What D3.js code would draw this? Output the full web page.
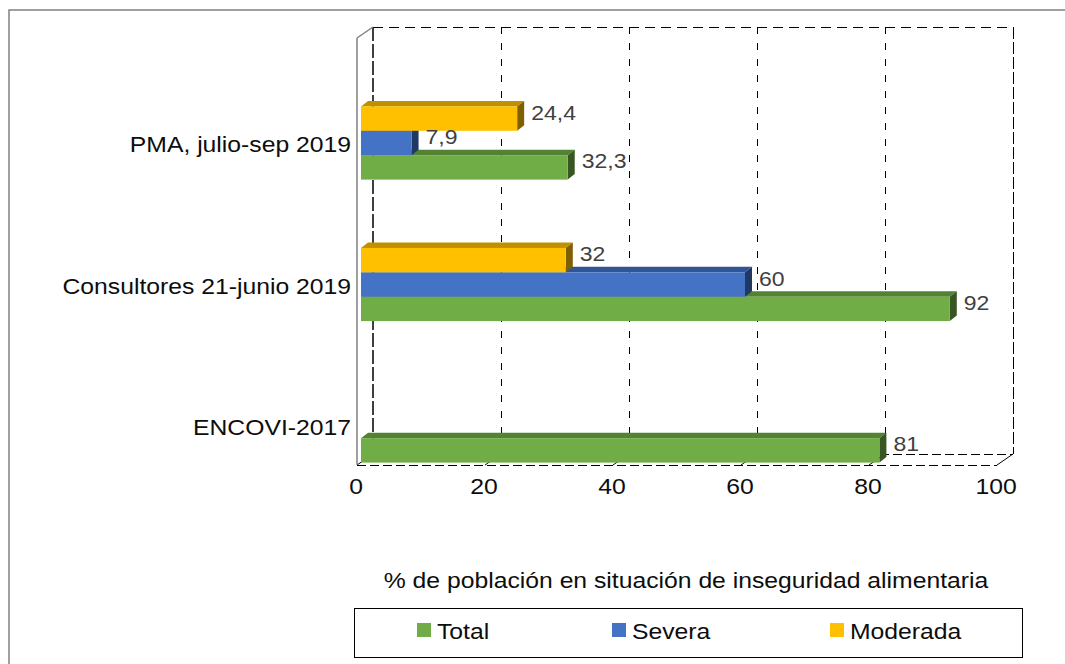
<!DOCTYPE html>
<html>
<head>
<meta charset="utf-8">
<script src="https://cdn.jsdelivr.net/npm/d3@7"></script>
<style>
  html, body { margin: 0; padding: 0; background: #fff; }
  svg { display: block; }
  text { font-family: "Liberation Sans", Arial, Helvetica, sans-serif; }
</style>
</head>
<body>
<svg id="chart" width="1065" height="664"></svg>
<script>
// ---------- data ----------
const categories = ["ENCOVI-2017", "Consultores 21-junio 2019", "PMA, julio-sep 2019"];
const seriesNames = ["Total", "Severa", "Moderada"];
const totalValues = [81, 92, 32.3];
const severaValues = [null, 60, 7.9];
const moderadaValues = [null, 32, 24.4];
const xTickValues = [0, 20, 40, 60, 80, 100];
const axisTitle = "% de población en situación de inseguridad alimentaria";

const seriesValues = { "Total": totalValues, "Severa": severaValues, "Moderada": moderadaValues };
const colors = {
  "Total":    { front: "#70AD47", top: "#548235", side: "#375623" },
  "Severa":   { front: "#4472C4", top: "#2F5597", side: "#1F3864" },
  "Moderada": { front: "#FFC000", top: "#BF9000", side: "#7F6000" }
};

// ---------- layout ----------
const svg = d3.select("#chart");
const SX = 1.15;          // horizontal stretch of the text in the reference
const depth = { dx: 16, dy: -11 };      // wall depth
const barOff = { dx: 4, dy: -3 };       // bar front offset into the depth
const barDepth = { dx: 7, dy: -5.5 };   // bar thickness in depth

const x = d3.scaleLinear().domain([0, 100]).range([357, 997]);
const yFloor = 465, yTopFront = 38;
const yCat = d3.scalePoint().domain(categories).range([426, 143]);
const ySeries = d3.scaleBand().domain(["Moderada", "Severa", "Total"]).range([-36.6, 36.6]);

function addText(parent, px, py, str, size, anchor, fill) {
  return parent.append("text")
    .attr("transform", `translate(${px},${py}) scale(${SX},1)`)
    .attr("text-anchor", anchor)
    .attr("font-size", size)
    .attr("fill", fill)
    .text(str);
}

// outer chart frame
svg.append("rect").attr("x", 9).attr("y", 10).attr("width", 1100).attr("height", 700)
  .attr("fill", "none").attr("stroke", "#808080").attr("stroke-width", 1.5);

// ---------- walls / floor ----------
const walls = svg.append("g").attr("fill", "none").attr("stroke", "#000").attr("stroke-width", 1);
const xb = v => x(v) + depth.dx;
const yBackTop = yTopFront + depth.dy, yBackBot = yFloor + depth.dy;
const crisp = v => Math.round(v) + 0.5;

// back wall gridlines
walls.selectAll("line.grid").data(xTickValues.filter(v => v > 0 && v < 100)).join("line")
  .attr("class", "grid")
  .attr("x1", d => crisp(xb(d))).attr("x2", d => crisp(xb(d)))
  .attr("y1", yBackTop).attr("y2", yBackBot)
  .attr("stroke-dasharray", "7,9");
// floor gridlines (front to back)
walls.selectAll("line.fgrid").data(xTickValues.filter(v => v > 0 && v < 100)).join("line")
  .attr("class", "fgrid")
  .attr("x1", d => x(d)).attr("y1", yFloor)
  .attr("x2", d => xb(d)).attr("y2", yBackBot);
// back wall top edge
walls.append("line").attr("x1", xb(0)).attr("x2", xb(100)).attr("y1", crisp(yBackTop)).attr("y2", crisp(yBackTop))
  .attr("stroke-dasharray", "10,6");
// back wall right edge
walls.append("line").attr("x1", crisp(xb(100))).attr("x2", crisp(xb(100))).attr("y1", yBackTop).attr("y2", yBackBot)
  .attr("stroke-dasharray", "12,3");
// back wall left edge
walls.append("line").attr("x1", xb(0)).attr("x2", xb(0)).attr("y1", yBackTop).attr("y2", yBackBot)
  .attr("stroke-dasharray", "14,3").attr("stroke-width", 1.5);
// floor back edge
walls.append("line").attr("x1", xb(0)).attr("x2", xb(100)).attr("y1", crisp(yBackBot)).attr("y2", crisp(yBackBot))
  .attr("stroke-dasharray", "9,4");
// floor front edge
walls.append("line").attr("x1", x(0)).attr("x2", x(100)).attr("y1", crisp(yFloor)).attr("y2", crisp(yFloor))
  .attr("stroke-dasharray", "9,4");
// floor right edge
walls.append("line").attr("x1", x(100)).attr("y1", yFloor).attr("x2", xb(100)).attr("y2", yBackBot);
// floor left edge
walls.append("line").attr("x1", x(0)).attr("y1", yFloor).attr("x2", xb(0)).attr("y2", yBackBot);

// left wall (category axis)
const axisG = svg.append("g").attr("stroke", "#808080").attr("stroke-width", 1.5).attr("fill", "none");
axisG.append("line").attr("x1", x(0)).attr("x2", x(0)).attr("y1", yTopFront).attr("y2", yFloor);
axisG.append("line").attr("x1", x(0)).attr("y1", yTopFront).attr("x2", xb(0)).attr("y2", yBackTop);

// ---------- bars ----------
const barsG = svg.append("g");
const barData = [];
categories.forEach((c, i) => {
  seriesNames.forEach(s => {
    const v = seriesValues[s][i];
    if (v != null) barData.push({ cat: c, series: s, value: v });
  });
});
// draw from bottom series upward in each group
categories.forEach(c => {
  seriesNames.forEach(s => {
    const d = barData.find(b => b.cat === c && b.series === s);
    if (!d) return;
    const col = colors[s];
    const x0 = x(0) + barOff.dx, x1 = x(d.value) + barOff.dx;
    const yT = yCat(c) + ySeries(s), yB = yT + ySeries.bandwidth();
    const g = barsG.append("g");
    // top face
    g.append("path")
      .attr("d", `M${x0},${yT}L${x1},${yT}L${x1 + barDepth.dx},${yT + barDepth.dy}L${x0 + barDepth.dx},${yT + barDepth.dy}Z`)
      .attr("fill", col.top);
    // side face
    g.append("path")
      .attr("d", `M${x1},${yT}L${x1 + barDepth.dx},${yT + barDepth.dy}L${x1 + barDepth.dx},${yB + barDepth.dy}L${x1},${yB}Z`)
      .attr("fill", col.side);
    // front face
    g.append("rect").attr("x", x0).attr("y", yT).attr("width", x1 - x0).attr("height", yB - yT)
      .attr("fill", col.front);
    d.labelX = x1 + barDepth.dx + 7;
    d.labelY = (yT + yB) / 2 + 1;
  });
});

// data labels
const fmt = v => String(v).replace(".", ",");
const labelsG = svg.append("g");
barData.forEach(d => {
  addText(labelsG, d.labelX, d.labelY, fmt(d.value), 20, "start", "#404040");
});

// ---------- axes text ----------
const catG = svg.append("g");
categories.forEach(c => addText(catG, 351, yCat(c) + 9, c, 21.5, "end", "#0d0d0d"));

const tickG = svg.append("g");
xTickValues.forEach(v => addText(tickG, x(v) - 1, 494, String(v), 21.5, "middle", "#0d0d0d"));

addText(svg, 686, 588, axisTitle, 21.5, "middle", "#0d0d0d");

// ---------- legend ----------
const legendG = svg.append("g");
legendG.append("rect").attr("x", 354.5).attr("y", 608.5).attr("width", 668).attr("height", 49)
  .attr("fill", "none").attr("stroke", "#000").attr("stroke-width", 1);
const legendX = { "Total": 417, "Severa": 612, "Moderada": 830 };
seriesNames.forEach(s => {
  legendG.append("rect").attr("x", legendX[s]).attr("y", 623).attr("width", 14).attr("height", 14)
    .attr("fill", colors[s].front);
  addText(legendG, legendX[s] + 20, 639, s, 21.5, "start", "#0d0d0d");
});
</script>
</body>
</html>
